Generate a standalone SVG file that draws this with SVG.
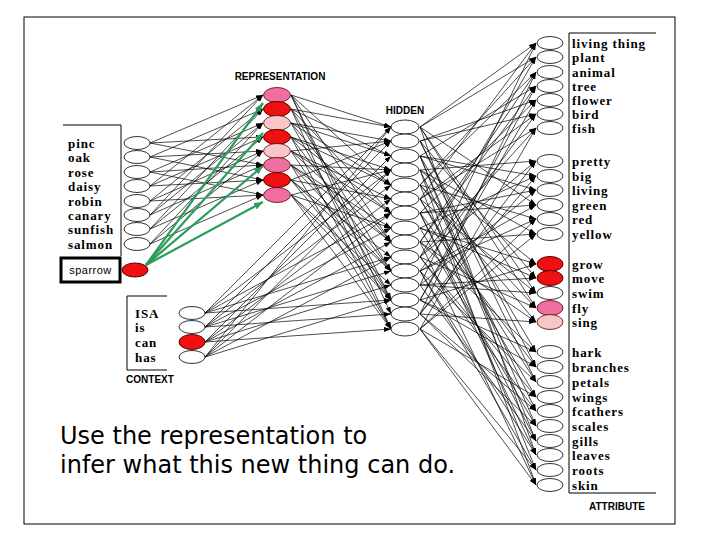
<svg xmlns="http://www.w3.org/2000/svg" width="720" height="540" viewBox="0 0 720 540">
<style>
.u{fill:#fff;stroke:#000;stroke-width:0.8}
.r{fill:#ee1111;stroke:#5a0000;stroke-width:1}
.p{fill:#ee6fa0;stroke:#5a0000;stroke-width:0.8}
.lp{fill:#f7c6c6;stroke:#5a0000;stroke-width:0.8}
.lb{font-family:"Liberation Serif",serif;font-weight:bold;font-size:13px;letter-spacing:0.9px;fill:#000}
.hd{font-family:"Liberation Sans",Arial,sans-serif;font-weight:bold;font-size:10px;fill:#000;text-anchor:middle}
.box{fill:none;stroke:#000;stroke-width:1}
</style>
<defs>
<marker id="ah" markerUnits="userSpaceOnUse" markerWidth="7" markerHeight="5" refX="7" refY="2.5" orient="auto"><path d="M0,0 L7,2.5 L0,5 z" fill="#000"/></marker>
<marker id="ga" markerUnits="userSpaceOnUse" markerWidth="9" markerHeight="7" refX="9" refY="3.5" orient="auto"><path d="M0,0 L9,3.5 L0,7 z" fill="#2a9d5c"/></marker>
</defs>
<rect x="24" y="17" width="651" height="507" fill="#fff" stroke="#000" stroke-width="1"/>
<path class="box" d="M63,125 H121 V256"/>
<path class="box" d="M167,296 H127 V370 H167"/>
<path class="box" d="M656,33 H569 V493 H656"/>
<text class="hd" x="280" y="80">REPRESENTATION</text>
<text class="hd" x="405" y="114">HIDDEN</text>
<text class="hd" x="150" y="383">CONTEXT</text>
<text class="hd" x="617" y="510">ATTRIBUTE</text>
<g id="connectors" stroke="#000" stroke-width="0.7" marker-end="url(#ah)">
<line x1="150" y1="143" x2="263" y2="95"/><line x1="150" y1="143" x2="263" y2="137"/><line x1="150" y1="143" x2="263" y2="165"/>
<line x1="150" y1="157" x2="263" y2="109"/><line x1="150" y1="157" x2="263" y2="151"/><line x1="150" y1="157" x2="263" y2="180"/>
<line x1="150" y1="172" x2="263" y2="123"/><line x1="150" y1="172" x2="263" y2="165"/><line x1="150" y1="172" x2="263" y2="195"/>
<line x1="150" y1="186" x2="263" y2="137"/><line x1="150" y1="186" x2="263" y2="180"/><line x1="150" y1="186" x2="263" y2="95"/>
<line x1="150" y1="201" x2="263" y2="151"/><line x1="150" y1="201" x2="263" y2="195"/><line x1="150" y1="201" x2="263" y2="109"/>
<line x1="150" y1="215" x2="263" y2="165"/><line x1="150" y1="215" x2="263" y2="95"/><line x1="150" y1="215" x2="263" y2="123"/>
<line x1="150" y1="229" x2="263" y2="180"/><line x1="150" y1="229" x2="263" y2="109"/><line x1="150" y1="229" x2="263" y2="137"/>
<line x1="150" y1="244" x2="263" y2="195"/><line x1="150" y1="244" x2="263" y2="123"/><line x1="150" y1="244" x2="263" y2="151"/>
<line x1="291" y1="95" x2="391" y2="127"/><line x1="291" y1="95" x2="391" y2="185"/><line x1="291" y1="95" x2="391" y2="242"/><line x1="291" y1="95" x2="391" y2="300"/><line x1="291" y1="95" x2="391" y2="314"/>
<line x1="291" y1="109" x2="391" y2="156"/><line x1="291" y1="109" x2="391" y2="213"/><line x1="291" y1="109" x2="391" y2="271"/><line x1="291" y1="109" x2="391" y2="329"/><line x1="291" y1="109" x2="391" y2="127"/>
<line x1="291" y1="123" x2="391" y2="185"/><line x1="291" y1="123" x2="391" y2="242"/><line x1="291" y1="123" x2="391" y2="300"/><line x1="291" y1="123" x2="391" y2="141"/><line x1="291" y1="123" x2="391" y2="156"/>
<line x1="291" y1="137" x2="391" y2="213"/><line x1="291" y1="137" x2="391" y2="271"/><line x1="291" y1="137" x2="391" y2="329"/><line x1="291" y1="137" x2="391" y2="170"/><line x1="291" y1="137" x2="391" y2="185"/>
<line x1="291" y1="151" x2="391" y2="242"/><line x1="291" y1="151" x2="391" y2="300"/><line x1="291" y1="151" x2="391" y2="141"/><line x1="291" y1="151" x2="391" y2="199"/><line x1="291" y1="151" x2="391" y2="213"/>
<line x1="291" y1="165" x2="391" y2="271"/><line x1="291" y1="165" x2="391" y2="329"/><line x1="291" y1="165" x2="391" y2="170"/><line x1="291" y1="165" x2="391" y2="228"/><line x1="291" y1="165" x2="391" y2="242"/>
<line x1="291" y1="180" x2="391" y2="300"/><line x1="291" y1="180" x2="391" y2="141"/><line x1="291" y1="180" x2="391" y2="199"/><line x1="291" y1="180" x2="391" y2="257"/><line x1="291" y1="180" x2="391" y2="271"/>
<line x1="291" y1="195" x2="391" y2="329"/><line x1="291" y1="195" x2="391" y2="170"/><line x1="291" y1="195" x2="391" y2="228"/><line x1="291" y1="195" x2="391" y2="285"/><line x1="291" y1="195" x2="391" y2="300"/>
<line x1="205" y1="313" x2="391" y2="127"/><line x1="205" y1="313" x2="391" y2="170"/><line x1="205" y1="313" x2="391" y2="213"/><line x1="205" y1="313" x2="391" y2="257"/><line x1="205" y1="313" x2="391" y2="300"/>
<line x1="205" y1="327" x2="391" y2="185"/><line x1="205" y1="327" x2="391" y2="228"/><line x1="205" y1="327" x2="391" y2="271"/><line x1="205" y1="327" x2="391" y2="314"/><line x1="205" y1="327" x2="391" y2="141"/>
<line x1="205" y1="342" x2="391" y2="242"/><line x1="205" y1="342" x2="391" y2="285"/><line x1="205" y1="342" x2="391" y2="329"/><line x1="205" y1="342" x2="391" y2="156"/><line x1="205" y1="342" x2="391" y2="199"/>
<line x1="205" y1="357" x2="391" y2="300"/><line x1="205" y1="357" x2="391" y2="127"/><line x1="205" y1="357" x2="391" y2="170"/><line x1="205" y1="357" x2="391" y2="213"/><line x1="205" y1="357" x2="391" y2="257"/>
<line x1="420" y1="127" x2="536" y2="43"/><line x1="420" y1="199" x2="536" y2="43"/><line x1="420" y1="285" x2="536" y2="43"/>
<line x1="420" y1="185" x2="536" y2="57"/><line x1="420" y1="257" x2="536" y2="57"/><line x1="420" y1="127" x2="536" y2="57"/>
<line x1="420" y1="242" x2="536" y2="72"/><line x1="420" y1="314" x2="536" y2="72"/><line x1="420" y1="185" x2="536" y2="72"/>
<line x1="420" y1="300" x2="536" y2="86"/><line x1="420" y1="156" x2="536" y2="86"/><line x1="420" y1="242" x2="536" y2="86"/>
<line x1="420" y1="141" x2="536" y2="100"/><line x1="420" y1="213" x2="536" y2="100"/><line x1="420" y1="300" x2="536" y2="100"/>
<line x1="420" y1="199" x2="536" y2="114"/><line x1="420" y1="271" x2="536" y2="114"/><line x1="420" y1="141" x2="536" y2="114"/>
<line x1="420" y1="257" x2="536" y2="128"/><line x1="420" y1="329" x2="536" y2="128"/><line x1="420" y1="199" x2="536" y2="128"/>
<line x1="420" y1="314" x2="536" y2="161"/><line x1="420" y1="170" x2="536" y2="161"/><line x1="420" y1="257" x2="536" y2="161"/>
<line x1="420" y1="156" x2="536" y2="176"/><line x1="420" y1="228" x2="536" y2="176"/><line x1="420" y1="314" x2="536" y2="176"/>
<line x1="420" y1="213" x2="536" y2="190"/><line x1="420" y1="285" x2="536" y2="190"/><line x1="420" y1="156" x2="536" y2="190"/>
<line x1="420" y1="271" x2="536" y2="205"/><line x1="420" y1="127" x2="536" y2="205"/><line x1="420" y1="213" x2="536" y2="205"/>
<line x1="420" y1="329" x2="536" y2="219"/><line x1="420" y1="185" x2="536" y2="219"/><line x1="420" y1="271" x2="536" y2="219"/>
<line x1="420" y1="170" x2="536" y2="234"/><line x1="420" y1="242" x2="536" y2="234"/><line x1="420" y1="329" x2="536" y2="234"/>
<line x1="420" y1="228" x2="536" y2="264"/><line x1="420" y1="300" x2="536" y2="264"/><line x1="420" y1="170" x2="536" y2="264"/>
<line x1="420" y1="285" x2="536" y2="278"/><line x1="420" y1="141" x2="536" y2="278"/><line x1="420" y1="228" x2="536" y2="278"/>
<line x1="420" y1="127" x2="536" y2="293"/><line x1="420" y1="199" x2="536" y2="293"/><line x1="420" y1="285" x2="536" y2="293"/>
<line x1="420" y1="185" x2="536" y2="308"/><line x1="420" y1="257" x2="536" y2="308"/><line x1="420" y1="127" x2="536" y2="308"/>
<line x1="420" y1="242" x2="536" y2="322"/><line x1="420" y1="314" x2="536" y2="322"/><line x1="420" y1="185" x2="536" y2="322"/>
<line x1="420" y1="300" x2="536" y2="352"/><line x1="420" y1="156" x2="536" y2="352"/><line x1="420" y1="242" x2="536" y2="352"/>
<line x1="420" y1="141" x2="536" y2="367"/><line x1="420" y1="213" x2="536" y2="367"/><line x1="420" y1="300" x2="536" y2="367"/>
<line x1="420" y1="199" x2="536" y2="382"/><line x1="420" y1="271" x2="536" y2="382"/><line x1="420" y1="141" x2="536" y2="382"/>
<line x1="420" y1="257" x2="536" y2="397"/><line x1="420" y1="329" x2="536" y2="397"/><line x1="420" y1="199" x2="536" y2="397"/>
<line x1="420" y1="314" x2="536" y2="411"/><line x1="420" y1="170" x2="536" y2="411"/><line x1="420" y1="257" x2="536" y2="411"/>
<line x1="420" y1="156" x2="536" y2="426"/><line x1="420" y1="228" x2="536" y2="426"/><line x1="420" y1="314" x2="536" y2="426"/>
<line x1="420" y1="213" x2="536" y2="441"/><line x1="420" y1="285" x2="536" y2="441"/><line x1="420" y1="156" x2="536" y2="441"/>
<line x1="420" y1="271" x2="536" y2="455"/><line x1="420" y1="127" x2="536" y2="455"/><line x1="420" y1="213" x2="536" y2="455"/>
<line x1="420" y1="329" x2="536" y2="470"/><line x1="420" y1="185" x2="536" y2="470"/><line x1="420" y1="271" x2="536" y2="470"/>
<line x1="420" y1="170" x2="536" y2="485"/><line x1="420" y1="242" x2="536" y2="485"/><line x1="420" y1="329" x2="536" y2="485"/>
<g stroke="#2a9d5c" stroke-width="2.2" marker-end="url(#ga)">
<line x1="146" y1="265" x2="263" y2="103"/><line x1="146" y1="265" x2="263" y2="133"/><line x1="146" y1="265" x2="263" y2="166"/><line x1="146" y1="265" x2="263" y2="202"/>
</g>
</g>
<g id="item-pine"><ellipse class="u" cx="137" cy="143" rx="13" ry="6.5"/><text class="lb" x="68" y="147.5">pinc</text></g>
<g id="item-oak"><ellipse class="u" cx="137" cy="157" rx="13" ry="6.5"/><text class="lb" x="68" y="161.5">oak</text></g>
<g id="item-rose"><ellipse class="u" cx="137" cy="172" rx="13" ry="6.5"/><text class="lb" x="68" y="176.5">rose</text></g>
<g id="item-daisy"><ellipse class="u" cx="137" cy="186" rx="13" ry="6.5"/><text class="lb" x="68" y="190.5">daisy</text></g>
<g id="item-robin"><ellipse class="u" cx="137" cy="201" rx="13" ry="6.5"/><text class="lb" x="68" y="205.5">robin</text></g>
<g id="item-canary"><ellipse class="u" cx="137" cy="215" rx="13" ry="6.5"/><text class="lb" x="68" y="219.5">canary</text></g>
<g id="item-sunfish"><ellipse class="u" cx="137" cy="229" rx="13" ry="6.5"/><text class="lb" x="68" y="233.5">sunfish</text></g>
<g id="item-salmon"><ellipse class="u" cx="137" cy="244" rx="13" ry="6.5"/><text class="lb" x="68" y="248.5">salmon</text></g>
<g id="item-sparrow"><rect x="61" y="258" width="59" height="24" fill="#fff" stroke="#000" stroke-width="3"/><text x="90.5" y="274" font-family="'Liberation Sans',Arial,sans-serif" font-size="11" text-anchor="middle" letter-spacing="0.5">sparrow</text><ellipse class="r" cx="135" cy="270" rx="13" ry="7" stroke-width="1.8"/></g>
<g id="rep-1"><ellipse class="p" cx="277" cy="95" rx="13.5" ry="7.5"/></g>
<g id="rep-2"><ellipse class="r" cx="277" cy="109" rx="13.5" ry="7.5"/></g>
<g id="rep-3"><ellipse class="lp" cx="277" cy="123" rx="13.5" ry="7.5"/></g>
<g id="rep-4"><ellipse class="r" cx="277" cy="137" rx="13.5" ry="7.5"/></g>
<g id="rep-5"><ellipse class="lp" cx="277" cy="151" rx="13.5" ry="7.5"/></g>
<g id="rep-6"><ellipse class="p" cx="277" cy="165" rx="13.5" ry="7.5"/></g>
<g id="rep-7"><ellipse class="r" cx="277" cy="180" rx="13.5" ry="7.5"/></g>
<g id="rep-8"><ellipse class="p" cx="277" cy="195" rx="13.5" ry="7.5"/></g>
<g id="ctx-isa"><ellipse class="u" cx="192" cy="313" rx="13" ry="6.5"/><text class="lb" x="135" y="317.5">ISA</text></g>
<g id="ctx-is"><ellipse class="u" cx="192" cy="327" rx="13" ry="6.5"/><text class="lb" x="135" y="331.5">is</text></g>
<g id="ctx-can"><ellipse class="r" cx="192" cy="342" rx="13" ry="7.5"/><text class="lb" x="135" y="346.5">can</text></g>
<g id="ctx-has"><ellipse class="u" cx="192" cy="357" rx="13" ry="6.5"/><text class="lb" x="135" y="361.5">has</text></g>
<g id="hid-1"><ellipse class="u" cx="405" cy="127" rx="14" ry="7"/></g>
<g id="hid-2"><ellipse class="u" cx="405" cy="141" rx="14" ry="7"/></g>
<g id="hid-3"><ellipse class="u" cx="405" cy="156" rx="14" ry="7"/></g>
<g id="hid-4"><ellipse class="u" cx="405" cy="170" rx="14" ry="7"/></g>
<g id="hid-5"><ellipse class="u" cx="405" cy="185" rx="14" ry="7"/></g>
<g id="hid-6"><ellipse class="u" cx="405" cy="199" rx="14" ry="7"/></g>
<g id="hid-7"><ellipse class="u" cx="405" cy="213" rx="14" ry="7"/></g>
<g id="hid-8"><ellipse class="u" cx="405" cy="228" rx="14" ry="7"/></g>
<g id="hid-9"><ellipse class="u" cx="405" cy="242" rx="14" ry="7"/></g>
<g id="hid-10"><ellipse class="u" cx="405" cy="257" rx="14" ry="7"/></g>
<g id="hid-11"><ellipse class="u" cx="405" cy="271" rx="14" ry="7"/></g>
<g id="hid-12"><ellipse class="u" cx="405" cy="285" rx="14" ry="7"/></g>
<g id="hid-13"><ellipse class="u" cx="405" cy="300" rx="14" ry="7"/></g>
<g id="hid-14"><ellipse class="u" cx="405" cy="314" rx="14" ry="7"/></g>
<g id="hid-15"><ellipse class="u" cx="405" cy="329" rx="14" ry="7"/></g>
<g id="att-living-thing"><ellipse class="u" cx="550" cy="43" rx="13" ry="6.5"/><text class="lb" x="572" y="47.5">living thing</text></g>
<g id="att-plant"><ellipse class="u" cx="550" cy="57" rx="13" ry="6.5"/><text class="lb" x="572" y="61.5">plant</text></g>
<g id="att-animal"><ellipse class="u" cx="550" cy="72" rx="13" ry="6.5"/><text class="lb" x="572" y="76.5">animal</text></g>
<g id="att-tree"><ellipse class="u" cx="550" cy="86" rx="13" ry="6.5"/><text class="lb" x="572" y="90.5">tree</text></g>
<g id="att-flower"><ellipse class="u" cx="550" cy="100" rx="13" ry="6.5"/><text class="lb" x="572" y="104.5">flower</text></g>
<g id="att-bird"><ellipse class="u" cx="550" cy="114" rx="13" ry="6.5"/><text class="lb" x="572" y="118.5">bird</text></g>
<g id="att-fish"><ellipse class="u" cx="550" cy="128" rx="13" ry="6.5"/><text class="lb" x="572" y="132.5">fish</text></g>
<g id="att-pretty"><ellipse class="u" cx="550" cy="161" rx="13" ry="6.5"/><text class="lb" x="572" y="165.5">pretty</text></g>
<g id="att-big"><ellipse class="u" cx="550" cy="176" rx="13" ry="6.5"/><text class="lb" x="572" y="180.5">big</text></g>
<g id="att-living"><ellipse class="u" cx="550" cy="190" rx="13" ry="6.5"/><text class="lb" x="572" y="194.5">living</text></g>
<g id="att-green"><ellipse class="u" cx="550" cy="205" rx="13" ry="6.5"/><text class="lb" x="572" y="209.5">green</text></g>
<g id="att-red"><ellipse class="u" cx="550" cy="219" rx="13" ry="6.5"/><text class="lb" x="572" y="223.5">red</text></g>
<g id="att-yellow"><ellipse class="u" cx="550" cy="234" rx="13" ry="6.5"/><text class="lb" x="572" y="238.5">yellow</text></g>
<g id="att-grow"><ellipse class="r" cx="550" cy="264" rx="13" ry="7.5"/><text class="lb" x="572" y="268.5">grow</text></g>
<g id="att-move"><ellipse class="r" cx="550" cy="278" rx="13" ry="7.5"/><text class="lb" x="572" y="282.5">move</text></g>
<g id="att-swim"><ellipse class="u" cx="550" cy="293" rx="13" ry="6.5"/><text class="lb" x="572" y="297.5">swim</text></g>
<g id="att-fly"><ellipse class="p" cx="550" cy="308" rx="13" ry="7.5"/><text class="lb" x="572" y="312.5">fly</text></g>
<g id="att-sing"><ellipse class="lp" cx="550" cy="322" rx="13" ry="7.5"/><text class="lb" x="572" y="326.5">sing</text></g>
<g id="att-bark"><ellipse class="u" cx="550" cy="352" rx="13" ry="6.5"/><text class="lb" x="572" y="356.5">hark</text></g>
<g id="att-branches"><ellipse class="u" cx="550" cy="367" rx="13" ry="6.5"/><text class="lb" x="572" y="371.5">branches</text></g>
<g id="att-petals"><ellipse class="u" cx="550" cy="382" rx="13" ry="6.5"/><text class="lb" x="572" y="386.5">petals</text></g>
<g id="att-wings"><ellipse class="u" cx="550" cy="397" rx="13" ry="6.5"/><text class="lb" x="572" y="401.5">wings</text></g>
<g id="att-feathers"><ellipse class="u" cx="550" cy="411" rx="13" ry="6.5"/><text class="lb" x="572" y="415.5">fcathers</text></g>
<g id="att-scales"><ellipse class="u" cx="550" cy="426" rx="13" ry="6.5"/><text class="lb" x="572" y="430.5">scales</text></g>
<g id="att-gills"><ellipse class="u" cx="550" cy="441" rx="13" ry="6.5"/><text class="lb" x="572" y="445.5">gills</text></g>
<g id="att-leaves"><ellipse class="u" cx="550" cy="455" rx="13" ry="6.5"/><text class="lb" x="572" y="459.5">leaves</text></g>
<g id="att-roots"><ellipse class="u" cx="550" cy="470" rx="13" ry="6.5"/><text class="lb" x="572" y="474.5">roots</text></g>
<g id="att-skin"><ellipse class="u" cx="550" cy="485" rx="13" ry="6.5"/><text class="lb" x="572" y="489.5">skin</text></g>
<text x="60" y="444" font-family="'DejaVu Sans',Verdana,sans-serif" font-size="24" fill="#000">Use the representation to</text>
<text x="60" y="473" font-family="'DejaVu Sans',Verdana,sans-serif" font-size="24" fill="#000">infer what this new thing can do.</text>
</svg>
